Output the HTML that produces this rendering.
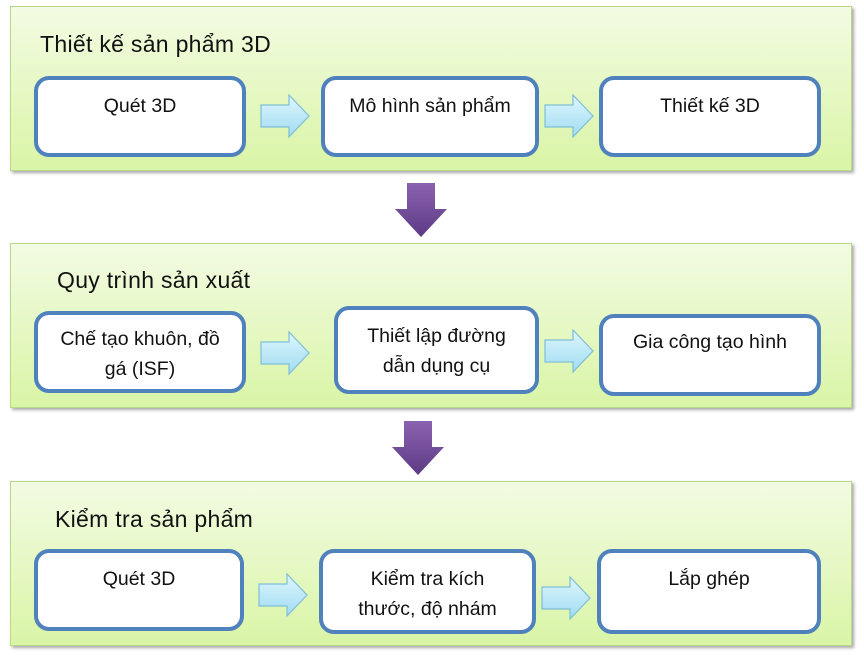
<!DOCTYPE html><html><head><style>
body{margin:0;width:864px;height:663px;background:#fff;font-family:"Liberation Sans","DejaVu Sans",sans-serif;position:relative;overflow:hidden}
.p{position:absolute;left:10px;width:840px;height:163px;background:linear-gradient(#f3fbe3,#d9f5a6);border:1px solid #b9d88a;box-shadow:2px 2px 3px rgba(0,0,0,.35)}
.t{position:absolute;font-size:23px;color:#111;letter-spacing:0.3px}
.b{position:absolute;background:#fff;border:4px solid #4f81bd;border-radius:15px;box-sizing:border-box;font-size:19.5px;text-align:center;line-height:30px;padding-top:11px;color:#111}
svg{position:absolute}
</style></head><body>
<div class="p" style="top:6px"></div>
<div class="p" style="top:243px"></div>
<div class="p" style="top:481px"></div>
<div class="t" style="left:40px;top:31px">Thiết kế sản phẩm 3D</div>
<div class="t" style="left:57px;top:267px">Quy trình sản xuất</div>
<div class="t" style="left:55px;top:506px">Kiểm tra sản phẩm</div>

<div class="b" style="left:34px;top:76px;width:212px;height:81px">Quét 3D</div>
<div class="b" style="left:321px;top:76px;width:218px;height:81px">Mô hình sản phẩm</div>
<div class="b" style="left:599px;top:76px;width:222px;height:81px">Thiết kế 3D</div>

<div class="b" style="left:34px;top:311px;width:212px;height:82px;padding-top:9px">Chế tạo khuôn, đồ<br>gá (ISF)</div>
<div class="b" style="left:334px;top:306px;width:205px;height:88px;padding-top:11px">Thiết lập đường<br>dẫn dụng cụ</div>
<div class="b" style="left:599px;top:314px;width:222px;height:82px;padding-top:9px">Gia công tạo hình</div>

<div class="b" style="left:34px;top:549px;width:210px;height:82px;padding-top:11px">Quét 3D</div>
<div class="b" style="left:319px;top:549px;width:217px;height:85px;padding-top:11px">Kiểm tra kích<br>thước, độ nhám</div>
<div class="b" style="left:597px;top:549px;width:224px;height:85px;padding-top:11px">Lắp ghép</div>

<svg width="864" height="663" style="left:0;top:0">
<defs>
<linearGradient id="bl" x1="0" y1="0" x2="0" y2="1"><stop offset="0" stop-color="#dff6fd"/><stop offset="1" stop-color="#9fdcf2"/></linearGradient>
<linearGradient id="pu" x1="0" y1="0" x2="0" y2="1"><stop offset="0" stop-color="#8a63b0"/><stop offset="1" stop-color="#5d3a85"/></linearGradient>
<g id="ba"><path d="M0,10 H28 V0 L48,21 L28,42 V32 H0 Z" fill="url(#bl)" stroke="#7fbfd6" stroke-width="1.2"/></g>
<g id="pa"><path d="M12,0 H40 V26 H52 L26,54 L0,26 H12 Z" fill="url(#pu)"/></g>
</defs>
<use href="#ba" x="261" y="95"/>
<use href="#ba" x="545" y="95"/>
<use href="#ba" x="261" y="332"/>
<use href="#ba" x="545" y="330"/>
<use href="#ba" x="259" y="574"/>
<use href="#ba" x="542" y="577"/>
<use href="#pa" x="395" y="183"/>
<use href="#pa" x="392" y="421"/>
</svg>
</body></html>
